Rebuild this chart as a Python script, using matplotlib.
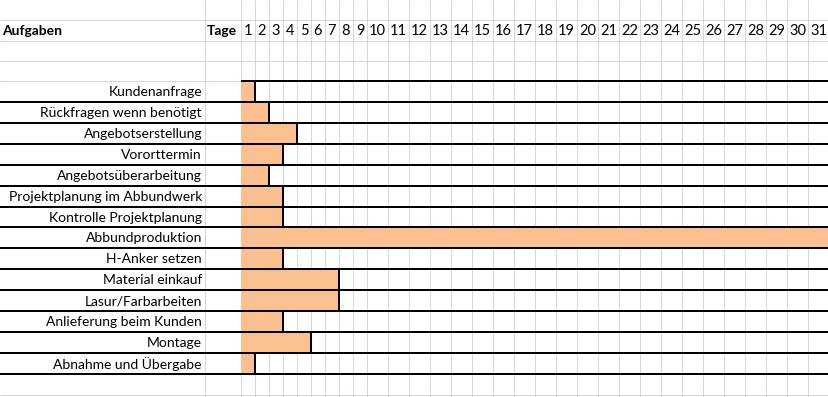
import numpy as np
import matplotlib
matplotlib.use("Agg")
import matplotlib.pyplot as plt

plt.rcParams['font.family'] = ['Lato', 'DejaVu Sans']

# data
tasks = ['Kundenanfrage', 'Rückfragen wenn benötigt', 'Angebotserstellung',
         'Vororttermin', 'Angebotsüberarbeitung', 'Projektplanung im Abbundwerk',
         'Kontrolle Projektplanung', 'Abbundproduktion', 'H-Anker setzen',
         'Material einkauf', 'Lasur/Farbarbeiten', 'Anlieferung beim Kunden',
         'Montage', 'Abnahme und Übergabe']
tage = [1, 2, 4, 3, 2, 3, 3, 31, 3, 7, 7, 3, 5, 1]
days = list(range(1, 32))

# sheet layout (pixels)
W, H = 829, 397
col_a = 205
col_b = 241
col_w = [14 if d < 10 else 21 for d in days]
edges = col_b + np.concatenate([[0], np.cumsum(col_w)])
head_lines = [20, 41, 61, 81]
row_h = 293 / 14
row_top = 81 + row_h * np.arange(len(tasks))
row_mid = row_top + row_h / 2
grid_c = '#D0D7E5'
bar_c = '#FAC090'
lw_thick = 2 * 72 / 100

fig = plt.figure(figsize=(W / 100, H / 100), dpi=100)
ax = fig.add_axes([0, 0, 1, 1])
ax.set_xlim(0, W)
ax.set_ylim(H, 0)
ax.axis('off')

# grid
ax.vlines([col_a] + list(edges), 0, H, color=grid_c, lw=0.75, zorder=1)
ax.hlines(head_lines + [395], 0, W, color=grid_c, lw=0.75, zorder=1)

# header
ax.text(2, 31, 'Aufgaben', fontweight='bold', fontsize=10, va='center', ha='left')
ax.text(col_b - 4, 31, 'Tage', fontweight='bold', fontsize=10, va='center', ha='right')
for d, x0, x1 in zip(days, edges[:-1], edges[1:]):
    ax.text((x0 + x1) / 2, 31, str(d), fontsize=10.5, va='center', ha='center')

# bars
ends = edges[np.array(tage)]
ax.barh(row_mid, ends - col_b, left=col_b, height=row_h, color=bar_c, zorder=2)
ax.vlines(ends, row_top, row_top + row_h, color='black', lw=lw_thick, zorder=3)
ax.hlines(row_top + row_h, 0, W, color='black', lw=lw_thick, zorder=3)
ax.hlines(row_top[0], col_b, W, color='black', lw=lw_thick, zorder=3)

for name, y in zip(tasks, row_mid):
    ax.text(col_a - 3, y + 0.5, name, fontsize=10, va='center', ha='right')

fig.savefig('out.png', dpi=100)
